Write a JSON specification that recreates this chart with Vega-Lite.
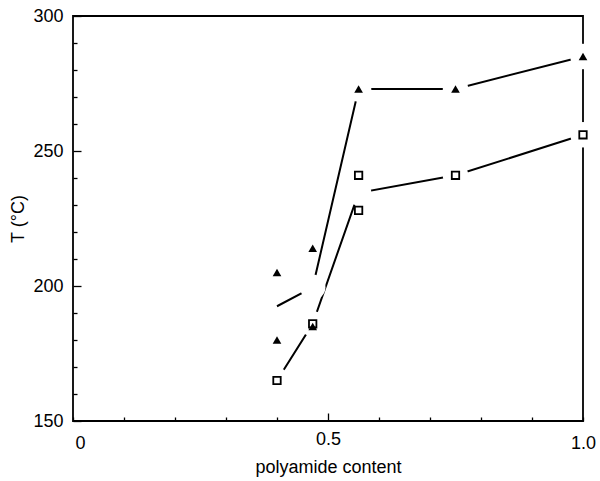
{
  "$schema": "https://vega.github.io/schema/vega-lite/v6.json",
  "width": 510,
  "height": 405,
  "autosize": {"type": "none"},
  "padding": {"left": 73, "top": 16, "right": 17, "bottom": 60},
  "background": "white",
  "config": {
    "font": "Liberation Sans",
    "view": {"stroke": "black", "strokeWidth": 1.8},
    "axis": {
      "domain": false,
      "grid": false,
      "tickColor": "black",
      "tickWidth": 1.3,
      "labelColor": "black",
      "labelFontSize": 18,
      "titleColor": "black",
      "titleFontSize": 18,
      "titleFontWeight": "normal",
      "zindex": 1
    }
  },
  "data": {
    "values": [
      {"series": "triangle", "content": 0.40, "T": 205},
      {"series": "triangle", "content": 0.40, "T": 180},
      {"series": "triangle", "content": 0.47, "T": 214},
      {"series": "triangle", "content": 0.47, "T": 185},
      {"series": "triangle", "content": 0.56, "T": 273},
      {"series": "triangle", "content": 0.75, "T": 273},
      {"series": "triangle", "content": 1.00, "T": 285},
      {"series": "square", "content": 0.40, "T": 165},
      {"series": "square", "content": 0.47, "T": 186},
      {"series": "square", "content": 0.56, "T": 241},
      {"series": "square", "content": 0.56, "T": 228},
      {"series": "square", "content": 0.75, "T": 241},
      {"series": "square", "content": 1.00, "T": 256}
    ]
  },
  "encoding": {
    "x": {
      "field": "content",
      "type": "quantitative",
      "scale": {"domain": [0, 1], "nice": false, "zero": false},
      "axis": {
        "title": "polyamide content",
        "values": [0, 0.1, 0.2, 0.3, 0.4, 0.5, 0.6, 0.7, 0.8, 0.9, 1.0],
        "labelExpr": "datum.value == 0 ? '0' : (datum.value == 0.5 ? '0.5' : (datum.value == 1 ? '1.0' : ''))",
        "tickSize": {"condition": {"test": "datum.value == 0.5", "value": -8}, "value": -4},
        "labelPadding": 17,
        "labelFlush": false,
        "labelOffset": {"condition": {"test": "datum.value == 0", "value": 7}, "value": 0},
        "titlePadding": 6
      }
    },
    "y": {
      "field": "T",
      "type": "quantitative",
      "scale": {"domain": [150, 300], "nice": false, "zero": false},
      "axis": {
        "title": "T (°C)",
        "values": [150, 160, 170, 180, 190, 200, 210, 220, 230, 240, 250, 260, 270, 280, 290, 300],
        "labelExpr": "datum.value % 50 == 0 ? datum.value : ''",
        "tickSize": {"condition": {"test": "datum.value % 50 == 0", "value": -8}, "value": -4},
        "labelPadding": 18,
        "labelFlush": false,
        "titlePadding": 5
      }
    }
  },
  "layer": [
    {
      "transform": [
        {"aggregate": [{"op": "mean", "field": "T", "as": "T"}], "groupby": ["series", "content"]}
      ],
      "mark": {"type": "line", "color": "black", "strokeWidth": 2},
      "encoding": {"detail": {"field": "series"}}
    },
    {
      "transform": [
        {"aggregate": [{"op": "mean", "field": "T", "as": "T"}], "groupby": ["series", "content"]},
        {"filter": "!(datum.series == 'triangle' && datum.content == 0.4)"}
      ],
      "mark": {"type": "point", "shape": "circle", "filled": true, "color": "white", "opacity": 1, "size": 650, "strokeWidth": 0}
    },
    {
      "transform": [{"filter": "datum.series == 'square'"}],
      "mark": {"type": "point", "shape": "square", "filled": false, "fill": "white", "fillOpacity": 1, "stroke": "black", "strokeWidth": 1.8, "opacity": 1, "size": 55}
    },
    {
      "transform": [{"filter": "datum.series == 'triangle'"}],
      "mark": {"type": "point", "shape": "triangle-up", "filled": true, "color": "black", "opacity": 1, "size": 75}
    }
  ]
}
